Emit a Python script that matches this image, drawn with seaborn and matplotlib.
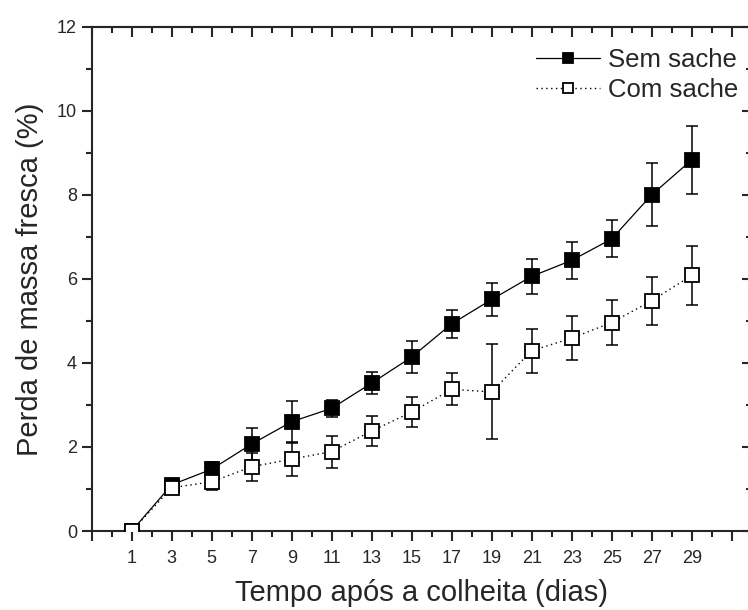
import numpy as np
import pandas as pd
import matplotlib
matplotlib.use("Agg")
import matplotlib.pyplot as plt
from matplotlib.lines import Line2D
import seaborn as sns

# ---- data ----
dias = [1, 3, 5, 7, 9, 11, 13, 15, 17, 19, 21, 23, 25, 27, 29]
sem_sache = [0.00, 1.10, 1.47, 2.07, 2.60, 2.92, 3.52, 4.14, 4.93, 5.51, 6.06, 6.44, 6.95, 8.00, 8.83]
sem_err = [0.00, 0.07, 0.17, 0.37, 0.50, 0.20, 0.26, 0.37, 0.33, 0.40, 0.42, 0.44, 0.44, 0.75, 0.80]
com_sache = [0.00, 1.03, 1.17, 1.53, 1.71, 1.89, 2.38, 2.83, 3.37, 3.31, 4.29, 4.59, 4.96, 5.48, 6.08]
com_err = [0.00, 0.10, 0.20, 0.33, 0.40, 0.38, 0.36, 0.35, 0.38, 1.13, 0.52, 0.52, 0.53, 0.57, 0.70]

x_major = list(range(-1, 33, 2))
x_labels = [str(v) if 1 <= v <= 29 else "" for v in x_major]
x_minor = list(range(0, 33, 2))
y_major = list(range(0, 13, 2))
y_minor = list(range(1, 13, 2))

series_names = ["Sem sache", "Com sache"]
xlabel = "Tempo após a colheita (dias)"
ylabel = "Perda de massa fresca (%)"

df_sem = pd.DataFrame({"dias": dias, "valor": sem_sache, "erro": sem_err})
df_com = pd.DataFrame({"dias": dias, "valor": com_sache, "erro": com_err})

# ---- style ----
sns.set_style("ticks")
plt.rcParams["font.family"] = ["Liberation Sans", "DejaVu Sans"]
plt.rcParams["axes.linewidth"] = 1.5

W, H = 748, 610
fig = plt.figure(figsize=(W / 100, H / 100), dpi=100)
left, right, top, bottom = 91.7, 751.7, 26.7, 531.0
ax = fig.add_axes([left / W, (H - bottom) / H, (right - left) / W, (bottom - top) / H])

ms = 9.5
mew = 1.3
cap = 4.3
dotted = (0, (1, 2.5))

# Sem sache
ax.errorbar(df_sem["dias"], df_sem["valor"], yerr=df_sem["erro"], fmt="none",
            ecolor="black", elinewidth=1.1, capsize=cap, capthick=1.1, zorder=2)
sns.lineplot(data=df_sem, x="dias", y="valor", ax=ax, color="black", linewidth=0.9,
             marker="s", markersize=ms, markerfacecolor="black", markeredgecolor="black",
             markeredgewidth=mew, zorder=3)
# Com sache
ax.errorbar(df_com["dias"], df_com["valor"], yerr=df_com["erro"], fmt="none",
            ecolor="black", elinewidth=1.1, capsize=cap, capthick=1.1, zorder=4)
sns.lineplot(data=df_com, x="dias", y="valor", ax=ax, color="black", linewidth=1.0,
             linestyle=dotted,
             marker="s", markersize=ms, markerfacecolor="white", markeredgecolor="black",
             markeredgewidth=mew, zorder=5)

ax.set_xlim(-1, 32)
ax.set_ylim(0, 12)
ax.set_xticks(x_major)
ax.set_xticklabels(x_labels)
ax.set_xticks(x_minor, minor=True)
ax.set_yticks(y_major)
ax.set_yticks(y_minor, minor=True)
ax.tick_params(which="major", direction="out", length=7.5, width=1.5, labelsize=13,
               top=False, right=False)
ax.tick_params(which="minor", direction="out", length=4, width=1.5, top=False, right=False)
ax.tick_params(axis="x", which="major", pad=6.5)
ax.tick_params(axis="y", which="major", pad=3)

ax.set_xlabel(xlabel, fontsize=21, labelpad=8)
ax.set_ylabel(ylabel, fontsize=21, labelpad=9)

for s in ax.spines.values():
    s.set_linewidth(1.5)

# top and right ticks pointing inward
secx = ax.secondary_xaxis("top")
secx.set_xticks(x_major)
secx.set_xticks(x_minor, minor=True)
secx.tick_params(which="major", direction="in", length=7.5, width=1.5, labeltop=False)
secx.tick_params(which="minor", direction="in", length=4, width=1.5, labeltop=False)
secx.spines["top"].set_linewidth(1.5)

secy = ax.secondary_yaxis("right")
secy.set_yticks(y_major)
secy.set_yticks(y_minor, minor=True)
secy.tick_params(which="major", direction="in", length=7.5, width=1.5, labelright=False)
secy.tick_params(which="minor", direction="in", length=4, width=1.5, labelright=False)
secy.spines["right"].set_linewidth(1.5)

handles = [
    Line2D([], [], color="black", linewidth=0.9, marker="s", markersize=ms * 0.7,
           markerfacecolor="black", markeredgecolor="black", markeredgewidth=mew),
    Line2D([], [], color="black", linewidth=1.0, linestyle=dotted, marker="s",
           markersize=ms * 0.7, markerfacecolor="white", markeredgecolor="black",
           markeredgewidth=mew),
]
leg = ax.legend(handles, series_names, loc="upper right", bbox_to_anchor=(738 / W, 1 - 48 / H),
                bbox_transform=fig.transFigure, frameon=False, fontsize=18.5, numpoints=1,
                handlelength=2.5, handletextpad=0.3, labelspacing=0.25, borderpad=0,
                borderaxespad=0)

fig.savefig("out.png", dpi=100)
